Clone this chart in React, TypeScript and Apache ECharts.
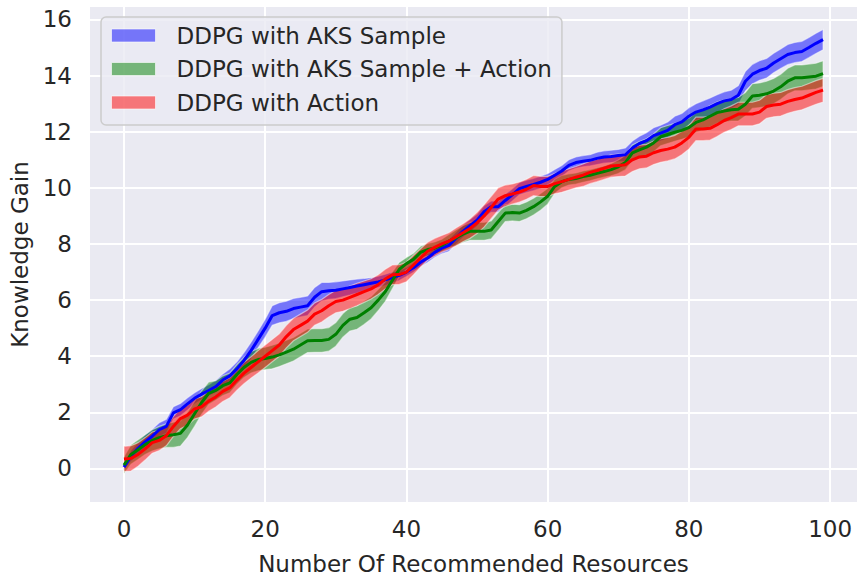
import React, { useEffect, useRef } from "react";
import * as echarts from "echarts";

const SERIES_NAMES = ["DDPG with AKS Sample", "DDPG with AKS Sample + Action", "DDPG with Action"];
const X_LABEL = "Number Of Recommended Resources";
const Y_LABEL = "Knowledge Gain";

// mean knowledge gain per step (0..99)
const aksSample = [
  0.05, 0.45, 0.72, 0.95, 1.15, 1.38, 1.5, 1.98, 2.1, 2.3,
  2.5, 2.65, 2.78, 2.92, 3.15, 3.3, 3.55, 3.85, 4.2, 4.6,
  5.0, 5.45, 5.55, 5.6, 5.7, 5.75, 5.8, 6.1, 6.3, 6.33,
  6.35, 6.4, 6.45, 6.5, 6.55, 6.6, 6.65, 6.72, 6.8, 6.88,
  7.0, 7.15, 7.35, 7.5, 7.7, 7.85, 7.95, 8.2, 8.45, 8.65,
  8.85, 9.15, 9.33, 9.33, 9.55, 9.75, 9.97, 10.05, 10.12, 10.2,
  10.3, 10.45, 10.6, 10.8, 10.9, 10.95, 10.98, 11.05, 11.1, 11.12,
  11.15, 11.18, 11.42, 11.58, 11.68, 11.86, 11.95, 12.05, 12.25, 12.35,
  12.55, 12.7, 12.78, 12.88, 13.0, 13.1, 13.15, 13.3, 13.8, 14.05,
  14.18, 14.26, 14.45, 14.6, 14.75, 14.82, 14.86, 15.0, 15.15, 15.28,
];
const aksSampleStd = [
  0.12, 0.2, 0.22, 0.25, 0.25, 0.25, 0.25, 0.22, 0.22, 0.22,
  0.2, 0.2, 0.2, 0.22, 0.22, 0.25, 0.25, 0.28, 0.3, 0.3,
  0.32, 0.35, 0.36, 0.36, 0.36, 0.35, 0.35, 0.35, 0.33, 0.3,
  0.3, 0.28, 0.27, 0.25, 0.22, 0.2, 0.2, 0.2, 0.2, 0.18,
  0.16, 0.16, 0.16, 0.16, 0.18, 0.2, 0.22, 0.22, 0.22, 0.22,
  0.22, 0.22, 0.2, 0.2, 0.22, 0.22, 0.22, 0.22, 0.22, 0.22,
  0.2, 0.2, 0.2, 0.2, 0.2, 0.2, 0.2, 0.22, 0.22, 0.22,
  0.22, 0.24, 0.25, 0.26, 0.28, 0.28, 0.28, 0.3, 0.3, 0.3,
  0.3, 0.3, 0.32, 0.32, 0.32, 0.32, 0.33, 0.34, 0.35, 0.35,
  0.35, 0.35, 0.35, 0.35, 0.36, 0.36, 0.36, 0.36, 0.36, 0.36,
];

const aksSampleAction = [
  0.12, 0.5, 0.67, 0.85, 1.0, 1.1, 1.17, 1.2, 1.25, 1.55,
  1.95, 2.35, 2.68, 2.78, 2.95, 3.05, 3.35, 3.6, 3.78, 3.88,
  3.92, 3.97, 4.05, 4.15, 4.25, 4.4, 4.55, 4.56, 4.56, 4.6,
  4.78, 5.1, 5.32, 5.38, 5.55, 5.73, 6.0, 6.3, 6.7, 7.1,
  7.3, 7.45, 7.7, 7.8, 7.85, 7.95, 8.1, 8.22, 8.35, 8.45,
  8.45, 8.45, 8.5, 8.8, 9.1, 9.12, 9.1, 9.2, 9.33, 9.5,
  9.7, 10.05, 10.22, 10.3, 10.33, 10.4, 10.45, 10.52, 10.58, 10.65,
  10.75, 10.9, 11.25, 11.35, 11.45, 11.6, 11.82, 11.9, 11.98, 12.05,
  12.15, 12.33, 12.42, 12.55, 12.68, 12.74, 12.78, 12.8, 12.98, 13.27,
  13.3, 13.35, 13.45, 13.6, 13.8, 13.92, 13.92, 13.95, 13.98, 14.07,
];
const aksSampleActionStd = [
  0.3, 0.35, 0.35, 0.35, 0.38, 0.4, 0.42, 0.45, 0.45, 0.45,
  0.45, 0.42, 0.4, 0.35, 0.35, 0.35, 0.35, 0.36, 0.38, 0.4,
  0.4, 0.42, 0.42, 0.42, 0.42, 0.42, 0.42, 0.42, 0.42, 0.42,
  0.42, 0.42, 0.42, 0.42, 0.42, 0.4, 0.38, 0.35, 0.3, 0.25,
  0.22, 0.22, 0.22, 0.22, 0.22, 0.22, 0.24, 0.28, 0.3, 0.32,
  0.32, 0.32, 0.32, 0.32, 0.3, 0.3, 0.3, 0.3, 0.3, 0.3,
  0.28, 0.25, 0.22, 0.2, 0.2, 0.2, 0.2, 0.2, 0.2, 0.22,
  0.24, 0.26, 0.28, 0.3, 0.3, 0.32, 0.32, 0.32, 0.32, 0.32,
  0.34, 0.35, 0.36, 0.38, 0.38, 0.4, 0.4, 0.42, 0.42, 0.44,
  0.44, 0.45, 0.45, 0.45, 0.46, 0.46, 0.46, 0.46, 0.46, 0.46,
];

const actionOnly = [
  0.34, 0.36, 0.5, 0.7, 0.92, 1.0, 1.17, 1.5, 1.78, 1.9,
  2.12, 2.2, 2.4, 2.55, 2.75, 2.88, 3.15, 3.4, 3.6, 3.8,
  4.0, 4.2, 4.4, 4.7, 4.95, 5.1, 5.25, 5.5, 5.62, 5.8,
  5.95, 6.0, 6.1, 6.2, 6.3, 6.4, 6.55, 6.75, 6.9, 6.91,
  7.0, 7.25, 7.5, 7.74, 7.88, 8.0, 8.1, 8.25, 8.4, 8.55,
  8.75, 9.0, 9.3, 9.6, 9.72, 9.78, 9.85, 9.95, 10.08, 10.05,
  10.05, 10.15, 10.22, 10.3, 10.38, 10.45, 10.55, 10.62, 10.7, 10.78,
  10.8, 10.82, 11.0, 11.1, 11.13, 11.25, 11.33, 11.38, 11.45, 11.6,
  11.8, 12.1, 12.1, 12.12, 12.25, 12.4, 12.5, 12.63, 12.63, 12.63,
  12.7, 12.9, 12.95, 12.98, 13.08, 13.15, 13.2, 13.3, 13.4, 13.48,
];
const actionOnlyStd = [
  0.45, 0.45, 0.42, 0.4, 0.38, 0.36, 0.36, 0.36, 0.36, 0.36,
  0.36, 0.36, 0.36, 0.36, 0.36, 0.36, 0.36, 0.38, 0.38, 0.4,
  0.4, 0.4, 0.4, 0.4, 0.4, 0.4, 0.4, 0.4, 0.4, 0.4,
  0.4, 0.4, 0.4, 0.4, 0.38, 0.36, 0.35, 0.35, 0.35, 0.35,
  0.35, 0.35, 0.33, 0.32, 0.32, 0.3, 0.3, 0.32, 0.32, 0.35,
  0.38, 0.4, 0.4, 0.4, 0.38, 0.36, 0.36, 0.36, 0.36, 0.36,
  0.36, 0.36, 0.38, 0.38, 0.38, 0.4, 0.4, 0.4, 0.4, 0.4,
  0.4, 0.4, 0.42, 0.42, 0.42, 0.42, 0.42, 0.42, 0.42, 0.42,
  0.42, 0.42, 0.42, 0.42, 0.42, 0.42, 0.42, 0.42, 0.42, 0.42,
  0.42, 0.42, 0.42, 0.42, 0.42, 0.42, 0.42, 0.42, 0.42, 0.42,
];

const LINE_COLORS = ["#0000ff", "#008000", "#ff0000"];
const BAND_COLORS = ["rgba(0,0,255,0.5)", "rgba(0,128,0,0.5)", "rgba(255,0,0,0.5)"];
const MEANS = [aksSample, aksSampleAction, actionOnly];
const STDS = [aksSampleStd, aksSampleActionStd, actionOnlyStd];

const FONT = "DejaVu Sans";
const TEXT_COLOR = "#262626";

function bandSeries(name: string, mean: number[], std: number[], color: string) {
  const data = mean.map((m, i) => [i, m - std[i], m + std[i]]);
  return {
    type: "custom",
    name,
    z: 1,
    silent: true,
    itemStyle: { color },
    encode: { x: 0, y: [1, 2] },
    data,
    renderItem: (params: any, api: any) => {
      if (params.dataIndex !== 0) return null;
      const upper = data.map((d) => api.coord([d[0], d[2]]));
      const lower = data.map((d) => api.coord([d[0], d[1]])).reverse();
      return {
        type: "polygon",
        shape: { points: upper.concat(lower) },
        style: { fill: color, stroke: "rgba(255,255,255,0.5)", lineWidth: 1.2 },
      };
    },
  };
}

function lineSeries(name: string, mean: number[], color: string) {
  return {
    type: "line",
    name,
    z: 3,
    data: mean.map((m, i) => [i, m]),
    showSymbol: false,
    symbol: "none",
    silent: true,
    lineStyle: { color, width: 3 },
    itemStyle: { color },
  };
}

export default function App() {
  const ref = useRef<HTMLDivElement>(null);
  useEffect(() => {
    if (!ref.current) return;
    const chart = echarts.init(ref.current, undefined, { renderer: "svg" });
    const bands = SERIES_NAMES.map((n, i) => bandSeries(n, MEANS[i], STDS[i], BAND_COLORS[i]));
    const lines = SERIES_NAMES.map((n, i) => lineSeries(n, MEANS[i], LINE_COLORS[i]));
    chart.setOption({
      animation: false,
      backgroundColor: "#ffffff",
      textStyle: { fontFamily: FONT },
      grid: {
        left: 89,
        top: 6,
        width: 774,
        height: 501,
        show: true,
        backgroundColor: "#eaeaf2",
        borderWidth: 0,
        containLabel: false,
      },
      legend: {
        show: true,
        orient: "vertical",
        left: 101,
        top: 17,
        icon: "rect",
        itemWidth: 44,
        itemHeight: 13,
        itemGap: 10.5,
        padding: [7, 10, 11, 10],
        backgroundColor: "rgba(234,234,242,0.8)",
        borderColor: "#cccccc",
        borderWidth: 1.5,
        borderRadius: 5,
        selectedMode: false,
        textStyle: {
          fontFamily: FONT,
          fontSize: 23,
          lineHeight: 23,
          color: TEXT_COLOR,
          padding: [0, 0, 0, 16],
        },
        data: SERIES_NAMES.map((n, i) => ({
          name: n,
          itemStyle: { color: BAND_COLORS[i], borderColor: "rgba(255,255,255,0.6)", borderWidth: 1 },
        })),
      },
      xAxis: {
        type: "value",
        min: -4.95,
        max: 103.95,
        splitNumber: 5,
        name: X_LABEL,
        nameLocation: "middle",
        nameGap: 49,
        nameTextStyle: { fontFamily: FONT, fontSize: 23, color: TEXT_COLOR },
        axisLine: { show: false },
        axisTick: { show: false },
        splitLine: { show: true, lineStyle: { color: "#ffffff", width: 2 } },
        axisLabel: {
          fontFamily: FONT,
          fontSize: 23,
          color: TEXT_COLOR,
          margin: 14,
          formatter: (v: number) => (Math.abs(v % 20) < 1e-6 ? String(v) : ""),
        },
      },
      yAxis: {
        type: "value",
        min: -1.23,
        max: 16.48,
        splitNumber: 9,
        name: Y_LABEL,
        nameLocation: "middle",
        nameRotate: 90,
        nameGap: 54,
        nameTextStyle: { fontFamily: FONT, fontSize: 23, color: TEXT_COLOR },
        axisLine: { show: false },
        axisTick: { show: false },
        splitLine: { show: true, lineStyle: { color: "#ffffff", width: 2 } },
        axisLabel: {
          fontFamily: FONT,
          fontSize: 23,
          color: TEXT_COLOR,
          margin: 17,
          formatter: (v: number) => (Math.abs(v % 2) < 1e-6 ? String(v) : ""),
        },
      },
      series: [...bands, ...lines],
    });
    return () => chart.dispose();
  }, []);
  return (
    <div
      ref={ref}
      style={{ position: "fixed", left: 0, top: 0, width: 861, height: 580 }}
    />
  );
}
